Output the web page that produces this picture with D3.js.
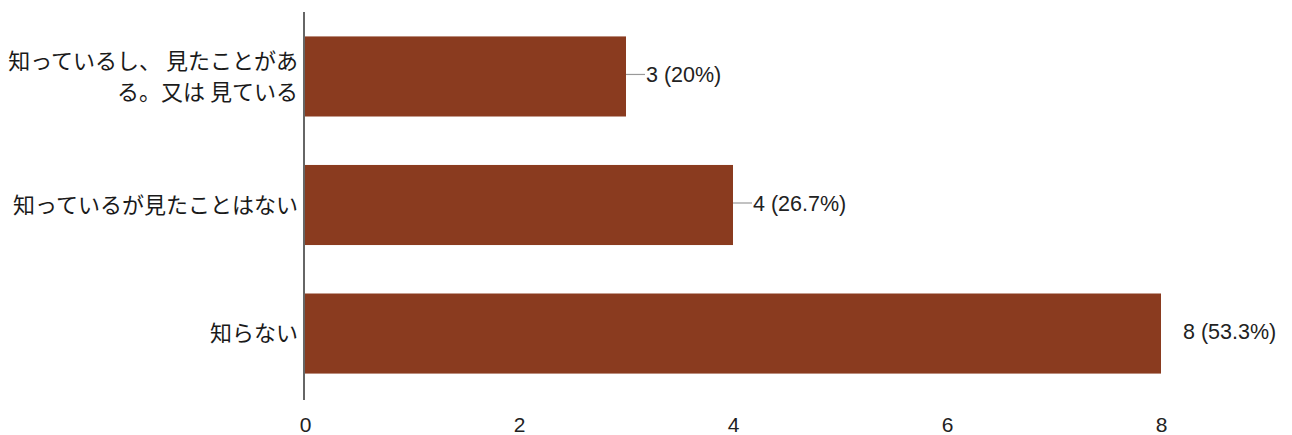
<!DOCTYPE html>
<html lang="ja">
<head>
<meta charset="UTF-8">
<title>認知度</title>
<script src="https://d3js.org/d3.v7.min.js"></script>
<style>
  body { margin: 0; background: #fff; font-family: Arial, "Liberation Sans", "Noto Sans CJK JP", sans-serif; }
  .cat { font-size: 22px; fill: #1a1a1a; font-family: "Noto Sans CJK JP", sans-serif; }
  .val { font-size: 21.5px; fill: #222; font-family: Arial, "Liberation Sans", sans-serif; }
  .tick text { font-size: 21px; fill: #222; }
</style>
</head>
<body>
<svg width="1292" height="435"></svg>
<script>
const categories = [["知っているし、 見たことがあ", "る。又は 見ている"], ["知っているが見たことはない"], ["知らない"]];
const counts = [3, 4, 8];
const valueLabels = ["3 (20%)", "4 (26.7%)", "8 (53.3%)"];
const xTicks = [0, 2, 4, 6, 8];

const svg = d3.select("svg");
const left = 305, right = 1161;

const x = d3.scaleLinear().domain([0, 8]).range([left, right]);
const y = d3.scaleBand()
    .domain(d3.range(counts.length))
    .range([12, 398])
    .paddingInner(0.377)
    .paddingOuter(0.19);

svg.selectAll(".bar")
    .data(counts)
    .enter()
    .append("rect")
    .attr("class", "bar")
    .attr("x", x(0))
    .attr("y", (d, i) => y(i))
    .attr("width", d => x(d) - x(0))
    .attr("height", y.bandwidth())
    .attr("fill", "#8a3b1f");

// leader lines + value labels
svg.selectAll(".lead")
    .data(counts.slice(0, 2))
    .enter()
    .append("line")
    .attr("x1", d => x(d))
    .attr("x2", d => x(d) + 19)
    .attr("y1", (d, i) => y(i) + y.bandwidth() / 2 - 2)
    .attr("y2", (d, i) => y(i) + y.bandwidth() / 2 - 2)
    .attr("stroke", "#999")
    .attr("stroke-width", 1.2);

svg.selectAll(".val")
    .data(counts)
    .enter()
    .append("text")
    .attr("class", "val")
    .attr("x", (d, i) => x(d) + (i < 2 ? 20 : 22))
    .attr("y", (d, i) => y(i) + y.bandwidth() / 2 - 2)
    .attr("dy", "0.35em")
    .text((d, i) => valueLabels[i]);

// category labels
const cat = svg.selectAll(".cat")
    .data(categories)
    .enter()
    .append("text")
    .attr("class", "cat")
    .attr("text-anchor", "end")
    .attr("x", 298);
cat.each(function(lines, i) {
    const t = d3.select(this);
    const cy = y(i) + y.bandwidth() / 2;
    const lh = 31;
    lines.forEach((ln, j) => {
        t.append("tspan")
            .attr("x", 298)
            .attr("y", cy + (j - (lines.length - 1) / 2) * lh)
            .attr("dy", "0.35em")
            .text(ln);
    });
});

// vertical axis line
svg.append("line")
    .attr("x1", left - 1).attr("x2", left - 1)
    .attr("y1", 12).attr("y2", 400)
    .attr("stroke", "#333").attr("stroke-width", 1.5);

// x axis labels
const xAxis = svg.append("g")
    .attr("transform", "translate(0,425)")
    .call(d3.axisBottom(x).tickValues(xTicks).tickSize(0).tickPadding(0));
xAxis.select(".domain").remove();
xAxis.selectAll("text").attr("dy", "0.35em").attr("font-family", "Arial, 'Liberation Sans', sans-serif");
</script>
</body>
</html>
